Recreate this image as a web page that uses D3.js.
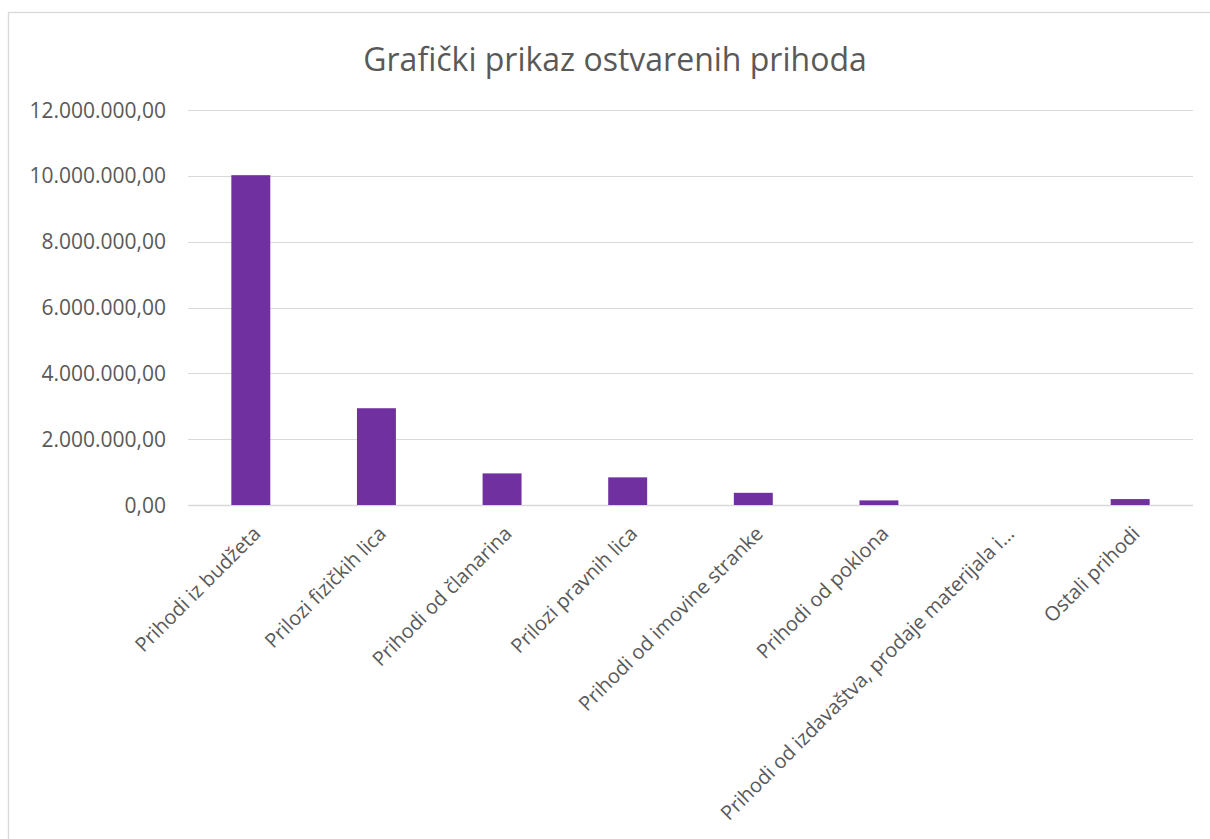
<!DOCTYPE html>
<html>
<head>
<meta charset="utf-8">
<script src="https://cdn.jsdelivr.net/npm/d3@7"></script>
<style>
  body { margin: 0; background: #fff; }
  text { font-family: "Open Sans", sans-serif; fill: #595959; }
</style>
</head>
<body>
<div id="grafik"></div>
<script>
const categories = [
  "Prihodi iz budžeta",
  "Prilozi fizičkih lica",
  "Prihodi od članarina",
  "Prilozi pravnih lica",
  "Prihodi od imovine stranke",
  "Prihodi od poklona",
  "Prihodi od izdavaštva, prodaje materijala i...",
  "Ostali prihodi"
];
const values = [10020000, 2940000, 960000, 840000, 370000, 140000, 0, 180000];
const yTicks = [0, 2000000, 4000000, 6000000, 8000000, 10000000, 12000000];

const W = 1210, H = 839;
const plotLeft = 188, plotRight = 1193, plotTop = 110, plotBottom = 505;

const svg = d3.select("#grafik").append("svg")
  .attr("width", W)
  .attr("height", H);

// okvir grafikona
svg.append("rect")
  .attr("x", 8.5).attr("y", 12.5)
  .attr("width", 1300).attr("height", 900)
  .attr("fill", "none")
  .attr("stroke", "#d9d9d9")
  .attr("stroke-width", 1.3);

svg.append("text")
  .attr("x", 615)
  .attr("y", 71)
  .attr("text-anchor", "middle")
  .style("font-size", "32px")
  .text("Grafički prikaz ostvarenih prihoda");

const x = d3.scaleBand()
  .domain(categories)
  .range([plotLeft, plotRight])
  .paddingInner(0.69)
  .paddingOuter(0.345);

const y = d3.scaleLinear()
  .domain([0, 12000000])
  .range([plotBottom, plotTop]);

const fmt = v => d3.format(",.2f")(v).replace(/,/g, "#").replace(".", ",").replace(/#/g, ".");

// mreža
svg.append("g")
  .selectAll("line")
  .data(yTicks)
  .enter()
  .append("line")
  .attr("x1", plotLeft)
  .attr("x2", plotRight)
  .attr("y1", d => Math.round(y(d)) + 0.5)
  .attr("y2", d => Math.round(y(d)) + 0.5)
  .attr("stroke", "#d9d9d9")
  .attr("stroke-width", d => d === 0 ? 1.6 : 1.2);

svg.append("g")
  .selectAll("text")
  .data(yTicks)
  .enter()
  .append("text")
  .attr("x", 166)
  .attr("y", d => y(d))
  .attr("dy", "0.36em")
  .attr("text-anchor", "end")
  .style("font-size", "21px")
  .text(d => fmt(d));

svg.append("g")
  .selectAll("rect")
  .data(categories)
  .enter()
  .append("rect")
  .attr("x", d => x(d))
  .attr("width", x.bandwidth())
  .attr("y", (d, i) => y(values[i]))
  .attr("height", (d, i) => plotBottom - y(values[i]))
  .attr("fill", "#7030a0");

// oznake kategorija
svg.append("g")
  .selectAll("text")
  .data(categories)
  .enter()
  .append("text")
  .attr("transform", d => `translate(${x(d) + x.bandwidth() / 2 + 11},535) rotate(-45)`)
  .attr("text-anchor", "end")
  .style("font-size", "20px")
  .text(d => d);
</script>
</body>
</html>
